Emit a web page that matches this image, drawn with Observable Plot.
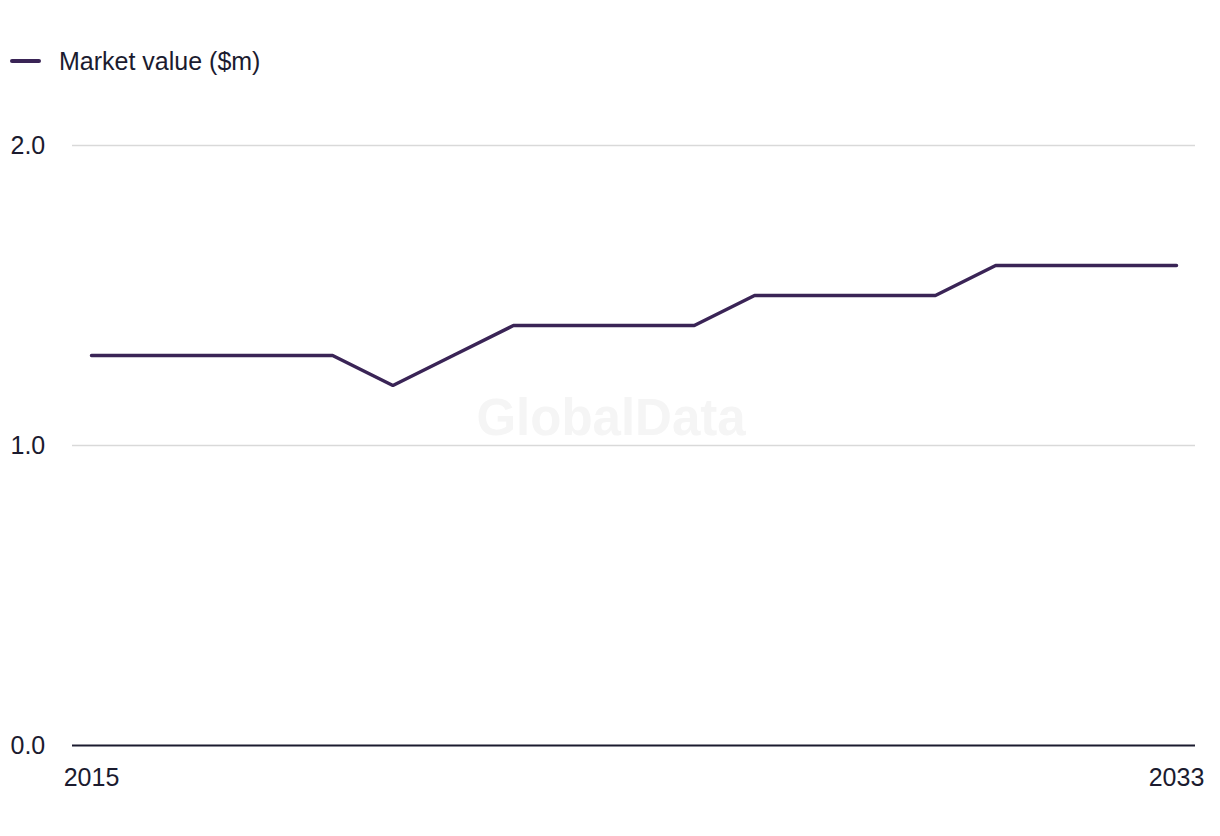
<!DOCTYPE html>
<html>
<head>
<meta charset="utf-8">
<script src="https://cdn.jsdelivr.net/npm/d3@7"></script>
<script src="https://cdn.jsdelivr.net/npm/@observablehq/plot@0.6"></script>
<style>
  html, body { margin: 0; padding: 0; background: #fff; }
  body { width: 1220px; height: 836px; overflow: hidden; font-family: "Liberation Sans", Arial, sans-serif; color: #1b1b2f; }
  #legend { height: 100px; position: relative; }
  #legend .sw { position: absolute; left: 10px; top: 59px; width: 31px; height: 4px; border-radius: 2px; background: #3a2456; }
  #legend .lab { position: absolute; left: 59px; top: 46px; font-size: 25px; line-height: 30px; }
</style>
</head>
<body>
<div id="legend"><span class="sw"></span><span class="lab">Market value ($m)</span></div>
<div id="chart"></div>
<script>
const years = [2015,2016,2017,2018,2019,2020,2021,2022,2023,2024,2025,2026,2027,2028,2029,2030,2031,2032,2033];
const marketValue = [1.3,1.3,1.3,1.3,1.3,1.2,1.3,1.4,1.4,1.4,1.4,1.5,1.5,1.5,1.5,1.6,1.6,1.6,1.6];
const yTicks = [0, 1, 2];
const xTicks = [2015, 2033];
const seriesName = "Market value ($m)";
const watermark = "GlobalData";

const data = years.map((y, i) => ({year: y, value: marketValue[i]}));

const chart = Plot.plot({
  width: 1220,
  height: 705,
  marginTop: 45,
  marginBottom: 60,
  marginLeft: 72,
  marginRight: 25,
  style: {fontFamily: "Liberation Sans, Arial, sans-serif", fontSize: "25px", color: "#1b1b2f", background: "#fff"},
  x: {domain: [2015, 2033], inset: 19},
  y: {domain: [0, 2]},
  marks: [
    Plot.gridY(yTicks.filter(d => d > 0), {stroke: "#d9d9d9", strokeOpacity: 1, strokeWidth: 1.5}),
    Plot.text([watermark], {frameAnchor: "middle", dx: -23, dy: -27, fontSize: 51, fontWeight: "bold", fill: "#f5f5f5"}),
    Plot.ruleY([0], {stroke: "#1b1b2f", strokeWidth: 2}),
    Plot.axisY({ticks: yTicks, tickFormat: d3.format(".1f"), tickSize: 0, tickPadding: 0, textAnchor: "start", dx: -62, label: null, fontSize: 25}),
    Plot.axisX({ticks: xTicks, tickFormat: d => String(d), tickSize: 0, tickPadding: 23, label: null, fontSize: 25}),
    Plot.line(data, {x: "year", y: "value", stroke: "#3a2456", strokeWidth: 3.5, strokeLinejoin: "miter", title: () => seriesName})
  ]
});
document.getElementById("chart").appendChild(chart);
</script>
</body>
</html>
